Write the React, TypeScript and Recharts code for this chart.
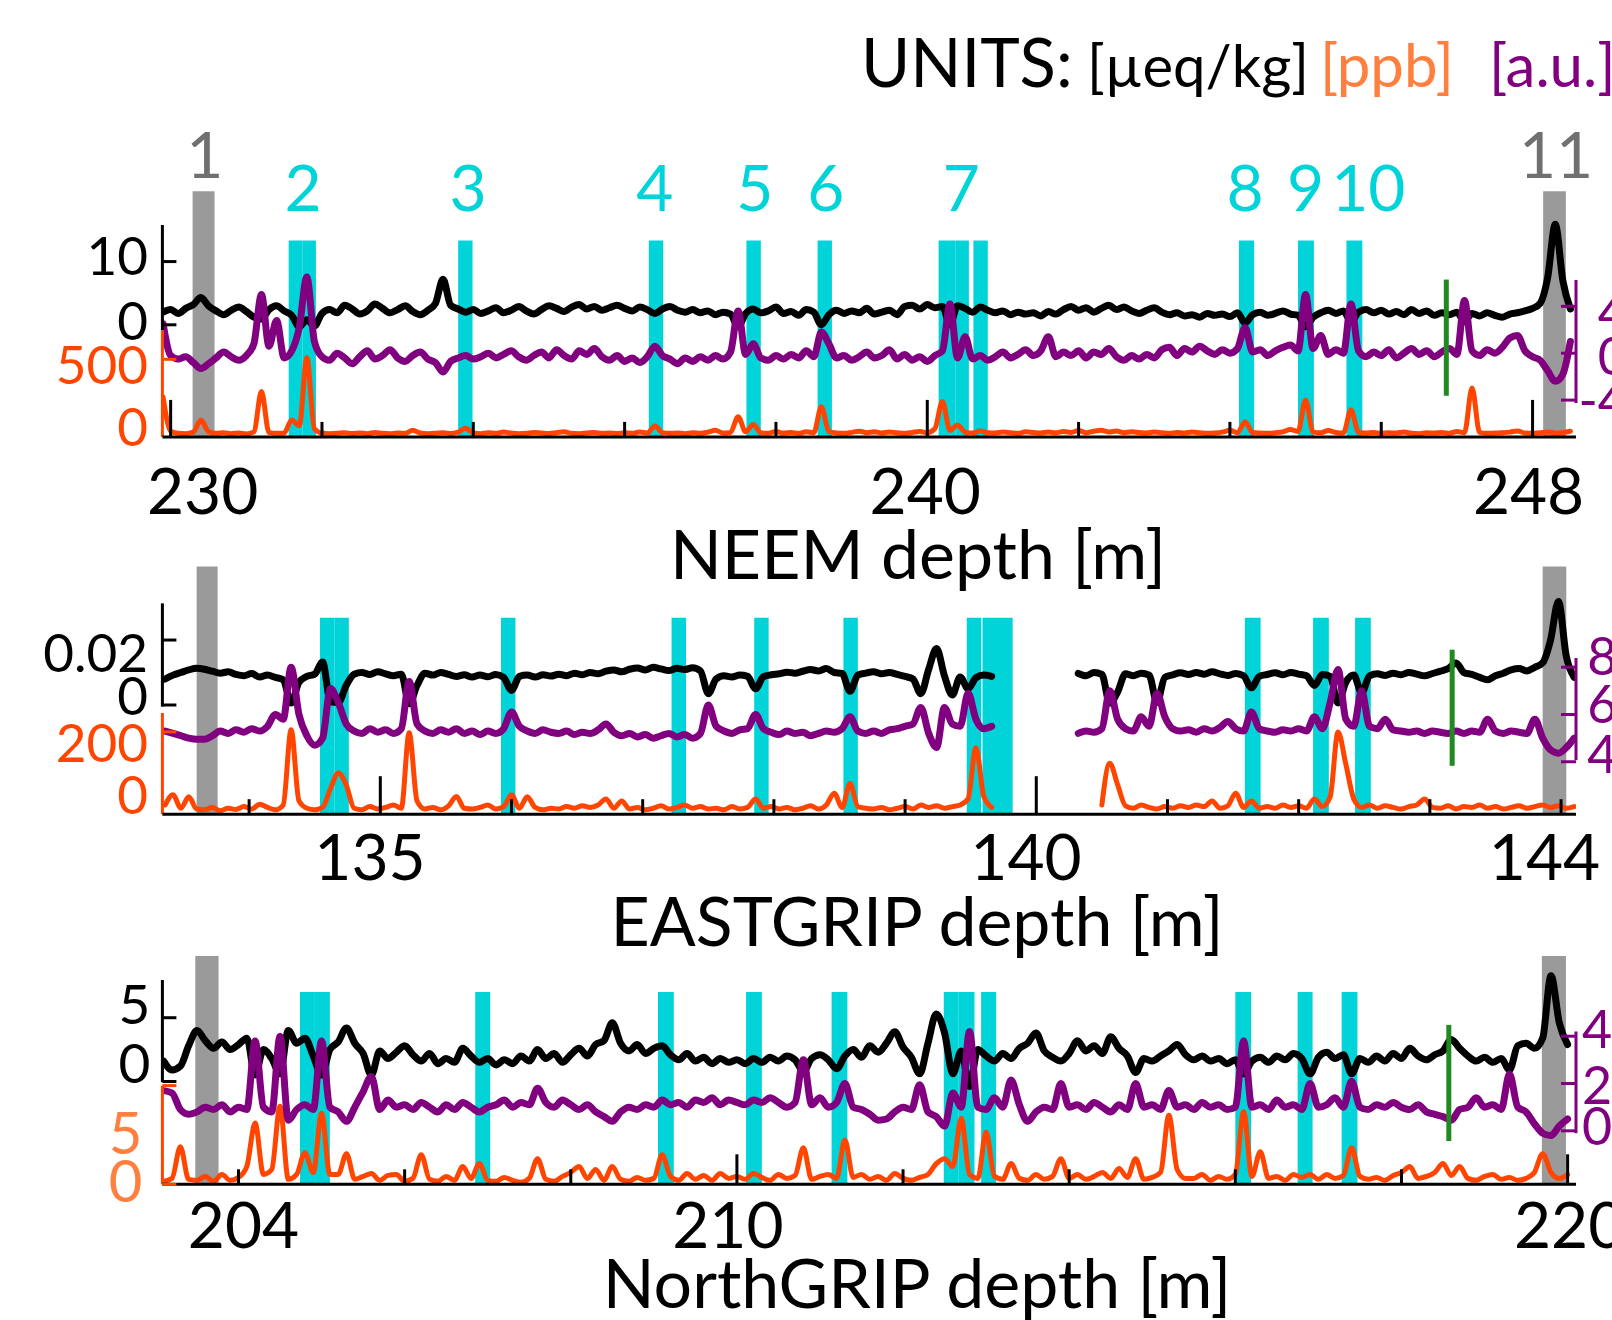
import React from "react";
import {
  ComposedChart,
  Line,
  XAxis,
  YAxis,
  ReferenceArea,
  ReferenceLine,
  ReferenceDot,
} from "recharts";

const FONT = "Lato, 'Open Sans', sans-serif";
const ORANGE = "#ff4500";
const ORANGE_LIGHT = "#ff7f3f";
const PURPLE = "#800080";
const CYAN = "#00d4d8";
const GRAY = "#9a9a9a";
const GRAY_TEXT = "#707070";
const GREEN = "#1f8a1f";

// ---------- NEEM (229.9 - 248.5 m, 0.1 m step) ----------
const neemStart = 229.9;
const neemStep = 0.1;
// conductivity [µeq/kg]
const neemBlack = [
  2.0, 2.4, 1.8, 2.6, 3.2, 4.3, 3.0, 2.2, 1.6, 2.3,
  2.8, 2.1, 1.2, 0.9, 2.4, 3.0, 2.2, 1.5, -0.3, 0.8,
  -0.2, 1.8, 2.4, 1.9, 3.1, 2.5, 1.7, 2.2, 3.3, 2.6,
  1.9, 2.4, 3.0, 2.1, 1.6, 2.3, 3.4, 7.2, 3.1, 2.5,
  2.0, 2.4, 1.8, 2.2, 2.7, 1.9, 2.3, 2.9, 2.2, 1.7,
  2.4, 3.0, 2.6, 2.1, 2.8, 3.2, 2.5, 2.9, 2.3, 2.7,
  3.1, 2.6, 2.2, 2.8, 2.4, 1.8, 2.5, 2.9, 2.3, 2.0,
  2.4, 1.9, 2.2, 1.6, 2.0, 1.7, -0.3, 1.8, 2.5, 1.9,
  2.2, 2.8, 1.8, 2.1, 1.5, 2.4, 2.0, 0.0, 1.6, 2.3,
  1.8, 2.2, 1.9, 2.6, 1.7, 2.0, 2.3, 1.6, 2.9, 3.1,
  2.5, 3.2, 2.7, 2.9, 0.0, 3.0, 2.6, 2.0, 2.8, 2.3,
  1.9, 2.2, 1.6, 2.0, 1.7, 1.9, 1.4, 2.1, 1.7, 2.4,
  2.9, 2.3, 2.7, 2.0, 2.6, 3.1, 2.4, 2.8, 2.2, 1.8,
  2.3, 2.7, 2.0, 1.6, 1.9, 1.4, 1.6, 1.2, 1.8, 1.5,
  1.7, 1.3, 1.9, 0.3, 1.6, 2.0, 1.5, 1.8, 2.2, 1.7,
  1.5, -0.3, 1.2, 1.9, 2.3, 1.8, 2.2, 0.5, 2.0, 2.4,
  1.9, 2.3, 1.7, 2.1, 1.6, 2.4, 1.8, 2.2, 1.5, 1.9,
  1.6, 2.0, 0.5, 1.8, 1.4, 1.9, 1.5, 1.2, 1.7, 1.9,
  2.2, 2.6, 3.4, 7.5, 15.9, 7.0, 2.5,
];
// [a.u.]
const neemPurple = [
  2.5, -0.2, -0.5, -0.3, -0.8, -1.3, -0.9, -0.4, 0.1, -0.3,
  -0.6, -0.2, 0.8, 5.0, 0.6, 2.8, -0.4, 0.2, 2.2, 6.5,
  1.0, -0.3, -0.6, 0.0, -0.4, -0.9, -0.3, 0.2, -0.5, -0.2,
  0.3, -0.4, -0.7, -0.2, 0.1, -0.5, -0.8, -1.6, -0.7, -0.4,
  -0.2, -0.5, -0.3, 0.0, -0.4, -0.1, 0.2, -0.3, -0.6, -0.2,
  0.1, -0.4, 0.3, -0.2, -0.5, 0.2, -0.1, 0.4, -0.3, -0.6,
  -0.2, -0.7, -0.4, -0.8, -0.3, 0.6, -0.2, -0.5, -0.9, -0.4,
  -0.7, -0.3, -0.6, -0.2, -0.5, 0.1, 3.6, -0.1, 0.8, -0.4,
  -0.6, -0.2, -0.5, -0.1, -0.4, 0.2, -0.3, 1.8, 0.8, -0.4,
  -0.2, -0.6, -0.3, 0.1, -0.4, -0.2, 0.3, -0.5, -0.1, -0.6,
  -0.3, -0.7, -0.2, 0.2, 4.2, -0.4, 1.4, -0.5, -0.2, -0.6,
  -0.3, 0.1, -0.4, -0.1, 0.3, -0.2, 0.2, 1.4, -0.3, 0.1,
  -0.2, 0.2, -0.4, 0.1, -0.1, 0.4, -0.3, -0.6, -0.2, -0.5,
  -0.1, -0.4, 0.3, 0.5, -0.2, 0.4, 0.1, 0.6, 0.2, -0.1,
  0.3, 0.0, 0.4, 2.2, 0.1, 0.3, -0.2, 0.2, 0.5, 0.7,
  0.2, 5.0, 0.4, 1.5, -0.1, 0.3, 0.0, 4.2, 0.2, -0.3,
  0.1, -0.2, 0.3, -0.4, 0.0, 0.4, -0.1, 0.2, -0.3, 0.1,
  0.4, -0.1, 4.5, 0.2, -0.2, 0.3, 0.0, 0.5, 1.3, 1.5,
  0.2, -0.3, -0.6, -1.5, -2.4, -1.8, 1.0,
];
// [ppb]
const neemOrange = [
  250, 25, 10, 8, 18, 98, 22, 10, 14, 8,
  12, 6, 20, 286, 15, 10, 12, 98, 60, 510,
  40, 12, 8, 10, 14, 9, 12, 8, 16, 10,
  7, 12, 10, 30, 12, 8, 10, 14, 9, 18,
  43, 12, 8, 14, 10, 18, 12, 8, 10, 15,
  12, 9, 14, 20, 10, 8, 12, 16, 10, 12,
  9, 14, 10, 18, 12, 58, 15, 10, 12, 8,
  14, 10, 18, 30, 12, 16, 120, 20, 68, 14,
  10, 22, 12, 16, 10, 20, 14, 186, 22, 12,
  10, 16, 24, 14, 20, 12, 18, 14, 10, 16,
  22, 14, 40, 220, 30, 65, 18, 12, 25, 14,
  12, 18, 14, 10, 20, 16, 12, 18, 14, 22,
  16, 28, 14, 24, 30, 18, 26, 14, 20, 16,
  12, 18, 14, 10, 16, 12, 18, 14, 10, 12,
  18, 30, 14, 87, 16, 12, 10, 14, 20, 35,
  22, 231, 18, 14, 28, 16, 12, 165, 18, 12,
  16, 10, 14, 12, 18, 10, 8, 14, 12, 16,
  10, 22, 14, 310, 16, 10, 12, 14, 18, 26,
  12, 10, 14, 18, 12, 16, 24,
];
const neemCyan: [number, number][] = [
  [231.56, 231.74], [231.74, 231.92], [233.8, 233.99], [236.32, 236.51],
  [237.61, 237.8], [238.55, 238.74], [240.15, 240.37], [240.37, 240.55],
  [240.61, 240.8], [244.12, 244.32], [244.9, 245.11], [245.54, 245.75],
];
const neemGray: [number, number][] = [[230.29, 230.58], [248.14, 248.44]];
const neemGreen = 246.86;
const neemEvents = [
  { x: 230.45, text: "1", gray: true },
  { x: 231.75, text: "2" },
  { x: 233.93, text: "3" },
  { x: 236.4, text: "4" },
  { x: 237.72, text: "5" },
  { x: 238.66, text: "6" },
  { x: 240.45, text: "7" },
  { x: 244.2, text: "8" },
  { x: 245.0, text: "9" },
  { x: 245.83, text: "10" },
  { x: 248.31, text: "11", gray: true },
];

// ---------- EASTGRIP (133.36 - 144.10 m, 0.06 m step) ----------
const egripStart = 133.36;
const egripStep = 0.06;
const egripBlack = [
  0.008, 0.0092, 0.01, 0.0108, 0.0113, 0.011, 0.0104, 0.0098, 0.0102, 0.0094,
  0.009, 0.0097, 0.0086, 0.0092, 0.0085, 0.0078, 0.0006, 0.007, 0.0088, 0.0095,
  0.0132, 0.001, 0.0008, 0.006, 0.0095, 0.01, 0.0094, 0.0102, 0.0096, 0.009,
  0.0095, 0.0004, 0.006, 0.0098, 0.0092, 0.01, 0.0094, 0.0088, 0.0093, 0.0086,
  0.0092, 0.0087, 0.0094, 0.0085, 0.0045, 0.0088, 0.0092, 0.0086, 0.0093, 0.0089,
  0.0095, 0.009, 0.0098, 0.0093, 0.01, 0.0096, 0.0104, 0.0108, 0.0102, 0.011,
  0.0114, 0.0108, 0.0116, 0.0111, 0.0106, 0.0113, 0.0109, 0.0115, 0.0105, 0.0035,
  0.008, 0.009, 0.0086, 0.0092, 0.0088, 0.005, 0.0087, 0.0093, 0.0096, 0.0101,
  0.0098, 0.0104, 0.0109, 0.0105, 0.0112, 0.01, 0.0097, 0.0042, 0.0092, 0.0098,
  0.0102, 0.0096, 0.01, 0.0094, 0.0088, 0.008, 0.0035, 0.011, 0.0174, 0.009,
  0.0031, 0.0086, 0.005, 0.0084, 0.0092, 0.0088, null, null, null, null,
  null, null, null, null, null, null, 0.0097, 0.009, 0.01, 0.0094,
  0.0006, 0.004, 0.0096, 0.009, 0.0098, 0.0092, 0.0008, 0.0085, 0.0093, 0.0099,
  0.0094, 0.01, 0.0095, 0.0102, 0.0096, 0.0091, 0.0097, 0.009, 0.0053, 0.0088,
  0.0094, 0.0099, 0.0093, 0.01, 0.0095, 0.009, 0.006, 0.0094, 0.0088, 0.0006,
  0.007, 0.0092, 0.0037, 0.009, 0.0096, 0.0091, 0.0098, 0.0093, 0.01, 0.0095,
  0.009, 0.0097, 0.0104, 0.0112, 0.0129, 0.01, 0.0094, 0.0085, 0.0078, 0.009,
  0.0098, 0.0108, 0.0112, 0.0105, 0.0116, 0.013, 0.02, 0.0319, 0.015, 0.0085,
];
const egripPurple = [
  5.3, 5.2, 5.1, 5.0, 4.95, 4.95, 5.1, 5.3, 5.2, 5.35,
  5.25, 5.4, 5.3, 5.5, 6.0, 5.8, 8.0, 6.0, 5.1, 4.7,
  5.0, 7.1, 6.5, 5.6, 5.3, 5.2, 5.4, 5.25, 5.35, 5.2,
  5.4, 7.4, 5.6, 5.3, 5.2, 5.35, 5.25, 5.4, 5.2, 5.3,
  5.15, 5.3, 5.2, 5.4, 6.1, 5.5, 5.3, 5.2, 5.35, 5.25,
  5.2, 5.3, 5.15, 5.25, 5.2, 5.35, 5.6, 5.25, 5.1, 5.2,
  5.05, 5.15, 5.0, 5.1, 5.2, 5.05, 5.15, 5.0, 5.2, 6.4,
  5.5, 5.3, 5.2, 5.35, 5.4, 6.0, 5.4, 5.25, 5.15, 5.3,
  5.2, 5.25, 5.1, 5.2, 5.3, 5.25, 5.4, 5.9, 5.3, 5.2,
  5.3, 5.2, 5.35, 5.4, 5.5, 5.6, 6.3, 5.2, 4.6, 6.3,
  5.6, 5.5, 6.9, 5.8, 5.4, 5.5, null, null, null, null,
  null, null, null, null, null, null, 5.2, 5.3, 5.25, 5.4,
  7.0, 5.8, 5.4, 5.3, 5.9, 5.5, 6.9, 5.9, 5.4, 5.3,
  5.35, 5.25, 5.4, 5.3, 5.45, 5.7, 5.4, 5.3, 6.1, 5.4,
  5.3, 5.25, 5.35, 5.3, 5.4, 5.3, 5.9, 5.4, 6.5, 7.9,
  5.8, 5.5, 7.0, 5.5, 5.4, 5.8, 5.35, 5.3, 5.25, 5.3,
  5.2, 5.3, 5.25, 5.2, 5.3, 5.2, 5.3, 5.25, 5.8, 5.3,
  5.2, 5.3, 5.25, 5.2, 5.8, 5.0, 4.5, 4.36, 4.6, 5.0,
];
const egripOrange = [
  20, 45, 12, 40, 10, 8, 14, 6, 12, 9,
  16, 10, 22, 14, 8, 20, 205, 30, 12, 8,
  14, 60, 99, 70, 12, 8, 16, 10, 14, 20,
  12, 198, 30, 10, 14, 8, 18, 41, 12, 10,
  14, 20, 10, 16, 45, 12, 40, 14, 8, 12,
  10, 16, 12, 18, 14, 20, 35, 12, 30, 10,
  14, 8, 12, 18, 10, 14, 20, 12, 16, 10,
  12, 8, 16, 10, 14, 35, 12, 16, 10, 14,
  8, 12, 18, 10, 20, 49, 14, 73, 16, 12,
  10, 14, 8, 12, 16, 10, 20, 14, 18, 12,
  16, 20, 35, 161, 41, 14, null, null, null, null,
  null, null, null, null, null, null, null, null, null, 20,
  123, 70, 18, 12, 20, 14, 10, 16, 12, 18,
  14, 20, 16, 30, 12, 18, 49, 14, 30, 12,
  16, 12, 20, 14, 18, 12, 35, 16, 40, 200,
  120, 35, 14, 20, 12, 18, 14, 10, 16, 20,
  35, 14, 12, 18, 10, 16, 14, 20, 12, 16,
  10, 14, 18, 12, 16, 20, 14, 18, 12, 16,
];
const egripCyan: [number, number][] = [
  [134.54, 134.65], [134.65, 134.76], [135.92, 136.03], [137.22, 137.33],
  [137.85, 137.96], [138.53, 138.64], [139.47, 139.58], [139.59, 139.82],
  [141.59, 141.71], [142.11, 142.23], [142.43, 142.55],
];
const egripGray: [number, number][] = [[133.6, 133.76], [143.86, 144.04]];
const egripGreen = 143.17;

// ---------- NorthGRIP (203.1 - 220.0 m, 0.1 m step) ----------
const ngripStart = 203.1;
const ngripStep = 0.1;
const ngripBlack = [
  1.6, 0.9, 1.2, 2.8, 4.0, 3.2, 2.6, 3.1, 2.5, 2.9,
  3.4, 0.5, 2.5, 1.8, 0.6, 4.0, 3.0, 3.4, 2.0, 0.5,
  2.5, 3.1, 4.2, 3.0, 2.2, 0.5, 2.4, 1.8, 2.3, 2.8,
  2.1, 1.6, 2.2, 1.4, 1.8, 1.5, 2.6, 2.0, 1.5, 1.8,
  1.3, 1.7, 1.4, 2.0, 1.6, 2.5, 1.8, 2.2, 1.5, 2.1,
  2.6, 2.0, 2.9, 3.2, 4.6, 3.0, 2.4, 2.9, 2.2, 2.6,
  2.8, 2.1, 1.7, 2.2, 1.6, 1.9, 1.4, 1.8, 1.5, 1.7,
  1.4, 1.8, 1.5, 1.9, 1.6, 2.0, 1.7, 0.8, 1.8, 2.1,
  1.7, 1.0, 2.0, 2.5, 1.9, 2.8, 2.3, 3.0, 3.9, 2.7,
  1.9, 0.6, 3.0, 5.3, 3.8, 0.6, 2.4, -0.4, 2.5, 2.0,
  1.6, 2.2, 1.8, 2.6, 3.0, 3.8, 2.4, 1.9, 1.6, 2.2,
  3.2, 2.4, 2.8, 2.2, 3.5, 2.6, 2.0, 0.7, 1.8, 1.6,
  2.0, 2.4, 2.9, 2.1, 1.7, 2.0, 1.6, 1.8, 1.4, 1.7,
  0.6, 1.6, 1.9, 1.5, 2.0, 1.7, 2.2, 1.8, 0.6, 1.9,
  2.3, 1.8, 2.1, 0.6, 1.8, 1.5, 2.0, 1.6, 2.2, 1.8,
  2.6, 2.0, 1.7, 2.1, 2.4, 3.3, 2.6, 2.0, 1.6, 1.9,
  1.5, 1.8, 0.9, 2.8, 3.0, 2.6, 3.4, 8.3, 4.6, 2.9,
];
const ngripPurple = [
  1.7, 1.6, 0.9, 0.7, 0.8, 1.0, 0.9, 1.1, 0.8, 1.0,
  0.9, 3.8, 1.0, 0.8, 4.0, 0.45, 0.9, 1.1, 0.9, 3.8,
  1.0, 0.8, 0.4, 1.0, 1.65, 2.3, 0.9, 1.3, 1.0, 1.1,
  0.9, 1.2, 1.0, 0.8, 1.1, 0.9, 1.2, 1.0, 0.8, 1.0,
  1.1, 1.3, 1.0, 1.2, 1.1, 1.8, 1.2, 1.0, 1.3, 1.1,
  0.9, 1.1, 0.8, 0.6, 0.4, 0.8, 1.0, 0.9, 1.1, 1.0,
  1.3, 1.1, 1.2, 1.0, 1.3, 1.2, 1.4, 1.1, 1.3, 1.2,
  1.1, 1.3, 1.2, 1.4, 1.2, 1.0, 1.2, 3.0, 1.1, 1.4,
  1.0, 1.2, 2.0, 1.0, 0.9, 0.7, 0.45, 0.5, 0.8, 1.0,
  0.9, 1.95, 0.8, 0.6, 0.2, 1.6, 1.0, 4.2, 1.0, 0.9,
  1.4, 1.0, 2.15, 1.1, 0.4, 0.8, 1.0, 0.9, 2.0, 1.0,
  1.1, 0.9, 1.2, 1.0, 0.8, 1.1, 0.9, 2.0, 1.0, 1.1,
  0.9, 1.7, 1.0, 1.1, 0.9, 1.2, 1.0, 1.1, 0.9, 1.0,
  3.8, 1.0, 1.1, 0.9, 1.3, 1.0, 1.1, 0.9, 2.0, 1.0,
  1.1, 1.4, 1.0, 2.1, 1.0, 0.9, 1.1, 1.0, 1.2, 1.0,
  0.9, 1.1, 0.8, 0.7, 0.6, 0.45, 0.9, 1.0, 1.4, 1.0,
  1.1, 0.9, 2.4, 1.0, 0.8, 0.3, -0.1, -0.2, 0.2, 0.5,
];
const ngripOrange = [
  0.3, 0.6, 3.8, 0.5, 0.4, 0.8, 0.3, 1.0, 0.4, 0.7,
  1.8, 6.2, 1.0, 1.5, 7.9, 0.5, 1.0, 3.2, 1.2, 7.2,
  1.0, 1.0, 3.1, 0.5, 0.8, 1.1, 0.4, 0.9, 1.0, 0.3,
  0.6, 3.0, 0.5, 0.3, 0.8, 0.4, 1.8, 0.6, 2.1, 0.4,
  0.3, 0.7, 0.4, 0.2, 0.6, 2.6, 0.5, 0.3, 0.8, 1.2,
  1.8, 0.6, 1.5, 0.4, 1.8, 0.5, 0.3, 0.7, 0.4, 0.6,
  3.0, 0.8, 0.4, 1.1, 0.5, 0.9, 0.4, 1.1, 0.6, 0.8,
  0.5, 1.1, 0.7, 0.4, 1.0, 0.6, 0.9, 3.7, 0.5, 0.8,
  1.0, 0.6, 4.5, 0.7, 1.0, 0.5, 0.8, 0.4, 1.1, 0.6,
  0.4, 0.7, 1.0, 2.1, 2.6, 1.8, 6.7, 1.0, 0.6, 5.3,
  0.8, 0.5, 2.1, 0.6, 0.4, 1.0, 0.5, 0.8, 2.6, 0.6,
  1.0, 0.5, 0.8, 1.2, 0.6, 1.6, 0.7, 2.6, 0.5, 0.7,
  1.2, 7.0, 1.5, 0.6, 0.6, 1.0, 0.4, 0.8, 0.5, 1.0,
  7.35, 0.8, 3.3, 0.6, 0.8, 0.4, 1.0, 0.7, 1.0, 0.5,
  1.0, 0.6, 0.9, 3.7, 0.8, 0.5, 0.7, 0.4, 0.9, 1.2,
  1.8, 0.6, 0.8, 1.2, 2.1, 0.9, 1.8, 0.6, 0.4, 0.8,
  1.0, 0.5, 0.7, 0.4, 0.6, 1.2, 3.1, 1.2, 0.6, 1.0,
];
const ngripCyan: [number, number][] = [
  [204.74, 204.92], [204.92, 205.1], [206.85, 207.03], [209.05, 209.24],
  [210.11, 210.3], [211.14, 211.33], [212.49, 212.67], [212.67, 212.86],
  [212.94, 213.12], [216.0, 216.19], [216.75, 216.93], [217.28, 217.47],
];
const ngripGray: [number, number][] = [[203.48, 203.76], [219.69, 219.98]];
const ngripGreen = 218.57;

// ---------- helpers ----------
function buildRows(start: number, step: number, k: any[], o: any[], p: any[]) {
  return k.map((v, i) => ({
    x: +(start + i * step).toFixed(3),
    k: v,
    o: o[i],
    p: p[i],
  }));
}

type Lbl = { v: number; text: string; dy: number };
type AxisCfg = {
  id: string;
  domain: [number, number];
  color: string;
  textColor: string;
  span: [number, number];
  ticks: number[];
  labels: Lbl[];
  labelDx: number;
  anchor: "start" | "end";
  fontSize: number;
  right?: boolean;
};
type PanelCfg = {
  top: number;
  height: number;
  marginTop: number;
  xHeight: number;
  xDomain: [number, number];
  xTicks: number[];
  xTall: number[];
  xTallLen: number;
  xLabels: Record<number, number>;
  xLabelDy: number;
  rows: any[];
  black: AxisCfg;
  orange: AxisCfg;
  purple: AxisCfg;
  cyan: [number, number][];
  gray: [number, number][];
  cyanTop: number;
  green: number;
  greenSpan: [number, number];
  events?: { x: number; text: string; gray?: boolean }[];
};

const range = (a: number, b: number, s: number) => {
  const r: number[] = [];
  for (let v = a; v <= b; v += s) r.push(v);
  return r;
};

const panels: PanelCfg[] = [
  {
    top: 100,
    height: 420,
    marginTop: 91.2,
    xHeight: 83.1,
    xDomain: [229.891, 248.574],
    xTicks: range(230, 248, 2),
    xTall: [230, 240, 248],
    xTallLen: 37,
    xLabels: { 230: 32, 240: -2, 248: -4 },
    xLabelDy: 53,
    rows: buildRows(neemStart, neemStep, neemBlack, neemOrange, neemPurple),
    black: {
      id: "k", domain: [-17.73, 21.13], color: "#000", textColor: "#000",
      span: [15.79, -0.82], ticks: [10, 0],
      labels: [{ v: 10, text: "10", dy: -6.6 }, { v: 0, text: "0", dy: -4.8 }],
      labelDx: -14.4, anchor: "end", fontSize: 53,
    },
    orange: {
      id: "o", domain: [-13.6, 1612.2], color: ORANGE, textColor: ORANGE,
      span: [693, -13.6], ticks: [500],
      labels: [{ v: 500, text: "500", dy: 4 }, { v: 0, text: "0", dy: -9 }],
      labelDx: -14.4, anchor: "end", fontSize: 53,
    },
    purple: {
      id: "p", domain: [-7.14, 13.82], color: PURPLE, textColor: PURPLE,
      span: [6.25, -4.25], ticks: [4, 0, -4],
      labels: [{ v: 4, text: "4", dy: 5 }, { v: 0, text: "0", dy: 2 }, { v: -4, text: "-4", dy: -1 }],
      labelDx: 52, anchor: "end", fontSize: 52, right: true,
    },
    cyan: neemCyan,
    gray: neemGray,
    cyanTop: 13.32,
    green: neemGreen,
    greenSpan: [6.28, -3.63],
    events: neemEvents,
  },
  {
    top: 540,
    height: 346,
    marginTop: 26.4,
    xHeight: 71.8,
    xDomain: [133.339, 144.114],
    xTicks: range(134, 144, 1),
    xTall: [135, 140],
    xTallLen: 38,
    xLabels: { 135: -10.3, 140: -10.3, 144: -16.5 },
    xLabelDy: 41,
    rows: buildRows(egripStart, egripStep, egripBlack, egripOrange, egripPurple),
    black: {
      id: "k", domain: [-0.03362, 0.04267], color: "#000", textColor: "#000",
      span: [0.0313, -0.0005], ticks: [0.02, 0],
      labels: [{ v: 0.02, text: "0.02", dy: 11 }, { v: 0, text: "0", dy: -10 }],
      labelDx: -14.4, anchor: "end", fontSize: 53,
    },
    orange: {
      id: "o", domain: [-2.7, 607.6], color: ORANGE, textColor: ORANGE,
      span: [246.5, -2.7], ticks: [200],
      labels: [{ v: 200, text: "200", dy: 10 }, { v: 0, text: "0", dy: -20 }],
      labelDx: -14.4, anchor: "end", fontSize: 53,
    },
    purple: {
      id: "p", domain: [1.782, 12.264], color: PURPLE, textColor: PURPLE,
      span: [8.39, 4.07], ticks: [8, 6, 4],
      labels: [{ v: 8, text: "8", dy: -12 }, { v: 6, text: "6", dy: -11.5 }, { v: 4, text: "4", dy: -9 }],
      labelDx: 11.3, anchor: "start", fontSize: 52, right: true,
    },
    cyan: egripCyan,
    gray: egripGray,
    cyanTop: 0.02685,
    green: egripGreen,
    greenSpan: [8.74, 3.83],
  },
  {
    top: 930,
    height: 330,
    marginTop: 26,
    xHeight: 75.7,
    xDomain: [203.084, 220.101],
    xTicks: range(204, 220, 2),
    xTall: [210, 220],
    xTallLen: 30,
    xLabels: { 204: 5, 210: -9, 220: 2 },
    xLabelDy: 39,
    rows: buildRows(ngripStart, ngripStep, ngripBlack, ngripOrange, ngripPurple),
    black: {
      id: "k", domain: [-8.06, 9.84], color: "#000", textColor: "#000",
      span: [7.96, -0.05], ticks: [5, 0],
      labels: [{ v: 5, text: "5", dy: -15 }, { v: 0, text: "0", dy: -19.5 }],
      labelDx: -12, anchor: "end", fontSize: 55,
    },
    orange: {
      id: "o", domain: [0, 23.13], color: ORANGE, textColor: ORANGE_LIGHT,
      span: [10, 0], ticks: [10, 0],
      labels: [{ v: 5, text: "5", dy: -3 }, { v: 0, text: "0", dy: -5 }],
      labelDx: -20, anchor: "end", fontSize: 58,
    },
    purple: {
      id: "p", domain: [-2.26, 7.39], color: PURPLE, textColor: PURPLE,
      span: [4.2, -0.1], ticks: [4, 2, 0],
      labels: [{ v: 4, text: "4", dy: -8 }, { v: 2, text: "2", dy: 0 }, { v: 0, text: "0", dy: -6 }],
      labelDx: 6, anchor: "start", fontSize: 52, right: true,
    },
    cyan: ngripCyan,
    gray: ngripGray,
    cyanTop: 7.02,
    green: ngripGreen,
    greenSpan: [4.48, -0.43],
  },
];

function axisParts(cfg: PanelCfg, a: AxisCfg) {
  const xe = a.right ? cfg.xDomain[1] : cfg.xDomain[0];
  const dir = a.right ? -15 : 14;
  return [
    <ReferenceLine
      key={a.id + "-axis"}
      yAxisId={a.id}
      ifOverflow="visible"
      segment={[{ x: xe, y: a.span[0] }, { x: xe, y: a.span[1] }]}
      stroke={a.color}
      strokeWidth={3}
    />,
    ...a.ticks.map((t) => (
      <ReferenceDot
        key={a.id + "-tick-" + t}
        yAxisId={a.id}
        x={xe}
        y={t}
        r={0}
        ifOverflow="visible"
        shape={(p: any) => (
          <line x1={p.cx} x2={p.cx + dir} y1={p.cy} y2={p.cy} stroke={a.color} strokeWidth={3} />
        )}
      />
    )),
    ...a.labels.map((l) => (
      <ReferenceDot
        key={a.id + "-lbl-" + l.text}
        yAxisId={a.id}
        x={xe}
        y={l.v}
        r={0}
        ifOverflow="visible"
        shape={(p: any) => (
          <text
            x={p.cx + a.labelDx}
            y={p.cy + l.dy}
            textAnchor={a.anchor}
            dominantBaseline="central"
            fill={a.textColor}
            fontSize={a.fontSize}
            fontFamily={FONT}
          >
            {l.text}
          </text>
        )}
      />
    )),
  ];
}

function Panel({ cfg }: { cfg: PanelCfg }) {
  const XTick = (p: any) => {
    const v = p.payload.value;
    const tall = cfg.xTall.includes(v);
    const dx = cfg.xLabels[v];
    return (
      <g>
        <line x1={p.x} x2={p.x} y1={p.y} y2={p.y - (tall ? cfg.xTallLen : 15)} stroke="#000" strokeWidth={3} />
        {dx !== undefined && (
          <text
            x={p.x + dx}
            y={p.y + cfg.xLabelDy}
            textAnchor="middle"
            dominantBaseline="central"
            fontSize={64}
            fontFamily={FONT}
            fill="#000"
          >
            {v}
          </text>
        )}
      </g>
    );
  };

  const lineStyle = { strokeLinejoin: "round" as const, strokeLinecap: "round" as const };

  return (
    <div style={{ position: "absolute", left: 0, top: cfg.top }}>
      <ComposedChart
        width={1612}
        height={cfg.height}
        data={cfg.rows}
        margin={{ top: cfg.marginTop, right: 36, bottom: 0, left: 162.4 }}
      >
        <XAxis
          dataKey="x"
          type="number"
          domain={cfg.xDomain}
          allowDataOverflow
          ticks={cfg.xTicks}
          interval={0}
          height={cfg.xHeight}
          tickSize={0}
          tickMargin={0}
          tickLine={false}
          axisLine={{ stroke: "#000", strokeWidth: 3 }}
          tick={<XTick />}
        />
        <YAxis yAxisId="k" hide type="number" domain={cfg.black.domain} allowDataOverflow />
        <YAxis yAxisId="o" hide type="number" domain={cfg.orange.domain} allowDataOverflow />
        <YAxis yAxisId="p" hide type="number" domain={cfg.purple.domain} allowDataOverflow orientation="right" />

        {cfg.gray.map(([a, b], i) => (
          <ReferenceArea key={"g" + i} yAxisId="k" x1={a} x2={b} fill={GRAY} fillOpacity={1} stroke="none" ifOverflow="visible" />
        ))}
        {cfg.cyan.map(([a, b], i) => (
          <ReferenceArea
            key={"c" + i}
            yAxisId="k"
            x1={a}
            x2={b}
            y1={cfg.black.domain[0]}
            y2={cfg.cyanTop}
            fill={CYAN}
            fillOpacity={1}
            stroke="none"
            ifOverflow="visible"
          />
        ))}

        <Line yAxisId="k" dataKey="k" type="monotone" stroke="#000" strokeWidth={7} {...lineStyle} dot={false} isAnimationActive={false} />
        <Line yAxisId="o" dataKey="o" type="monotone" stroke={ORANGE} strokeWidth={5} {...lineStyle} dot={false} isAnimationActive={false} />
        <Line yAxisId="p" dataKey="p" type="monotone" stroke={PURPLE} strokeWidth={7} {...lineStyle} dot={false} isAnimationActive={false} />

        <ReferenceLine
          yAxisId="p"
          ifOverflow="visible"
          segment={[{ x: cfg.green, y: cfg.greenSpan[0] }, { x: cfg.green, y: cfg.greenSpan[1] }]}
          stroke={GREEN}
          strokeWidth={5}
        />

        {axisParts(cfg, cfg.black)}
        {axisParts(cfg, cfg.orange)}
        {axisParts(cfg, cfg.purple)}

        {(cfg.events || []).map((e) => (
          <ReferenceDot
            key={"ev" + e.text}
            yAxisId="k"
            x={e.x}
            y={e.gray ? 23.22 : 18.05}
            r={0}
            ifOverflow="visible"
            shape={(p: any) => (
              <text x={p.cx} y={p.cy} textAnchor="middle" fontSize={64} fontFamily={FONT} fill={e.gray ? GRAY_TEXT : CYAN}>
                {e.text}
              </text>
            )}
          />
        ))}
      </ComposedChart>
    </div>
  );
}

export default function App() {
  return (
    <div style={{ position: "absolute", left: 0, top: 0, width: 1612, height: 1320, background: "#fff", overflow: "hidden" }}>
      <svg width={1612} height={1320} style={{ position: "absolute", left: 0, top: 0 }}>
        <g fontFamily={FONT}>
          <text x={861} y={87} fontSize={67} fill="#000">UNITS:</text>
          <text x={1087} y={87} fontSize={58} fill="#000">[µeq/kg]</text>
          <text x={1320} y={87} fontSize={60} fill={ORANGE_LIGHT}>[ppb]</text>
          <text x={1489} y={87} fontSize={60} fill={PURPLE}>[a.u.]</text>
          <text x={918} y={579} fontSize={68} textAnchor="middle" fill="#000">NEEM depth [m]</text>
          <text x={917} y={946} fontSize={68} textAnchor="middle" fill="#000">EASTGRIP depth [m]</text>
          <text x={917} y={1308} fontSize={68} textAnchor="middle" fill="#000">NorthGRIP depth [m]</text>
        </g>
      </svg>
      {panels.map((p, i) => (
        <Panel key={i} cfg={p} />
      ))}
    </div>
  );
}
